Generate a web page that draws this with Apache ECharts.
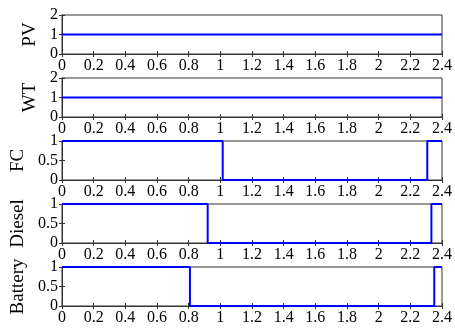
<!DOCTYPE html>
<html>
<head>
<meta charset="utf-8">
<script src="https://cdn.jsdelivr.net/npm/echarts@6/dist/echarts.min.js"></script>
<style>html,body{margin:0;padding:0;background:#fff}#c{width:455px;height:329px}</style>
</head>
<body>
<div id="c"></div>
<script>
// Panel names
const panelNames = ['PV', 'WT', 'FC', 'Diesel', 'Battery'];
// Switching times (x) and states (y) for each source, step-wise
const pvTimes = [0, 2.4];
const pvStates = [1, 1];
const wtTimes = [0, 2.4];
const wtStates = [1, 1];
const fcTimes = [0, 1.015, 2.307, 2.4];
const fcStates = [1, 0, 1, 1];
const dieselTimes = [0, 0.92, 2.333, 2.4];
const dieselStates = [1, 0, 1, 1];
const batteryTimes = [0, 0.808, 2.351, 2.4];
const batteryStates = [1, 0, 1, 1];
// Axis ranges
const xMin = 0, xMax = 2.4, xStep = 0.2;
const yMaxes = [2, 2, 1, 1, 1];
const ySteps = [1, 1, 0.5, 0.5, 0.5];

const times = [pvTimes, wtTimes, fcTimes, dieselTimes, batteryTimes];
const states = [pvStates, wtStates, fcStates, dieselStates, batteryStates];

const tops = [15, 78, 141, 204, 267];
const H = 39;
const nameGaps = [18, 18, 31, 31, 31];
const font = 'Liberation Serif';
const frame = '#333';

const grid = [], xAxis = [], yAxis = [], series = [];
for (let i = 0; i < 5; i++) {
  grid.push({left: 62, width: 380, top: tops[i], height: H, show: true, borderColor: frame, borderWidth: 1, backgroundColor: '#fff'});
  const tickX = {show: true, inside: true, length: 3, lineStyle: {color: frame}};
  xAxis.push({type: 'value', gridIndex: i, min: xMin, max: xMax, interval: xStep, position: 'bottom',
    axisLine: {show: true, lineStyle: {color: frame}}, axisTick: tickX, splitLine: {show: false},
    axisLabel: {fontFamily: font, fontSize: 16, color: '#000', margin: 4}});
  xAxis.push({type: 'value', gridIndex: i, min: xMin, max: xMax, interval: xStep, position: 'top',
    axisLine: {show: true, lineStyle: {color: frame}}, axisTick: tickX, splitLine: {show: false},
    axisLabel: {show: false}});
  yAxis.push({type: 'value', gridIndex: i, min: 0, max: yMaxes[i], interval: ySteps[i], position: 'left',
    name: panelNames[i], nameLocation: 'middle', nameGap: nameGaps[i], nameRotate: 90,
    nameTextStyle: {fontFamily: font, fontSize: 19, color: '#000'},
    axisLine: {show: true, lineStyle: {color: frame}}, axisTick: tickX, splitLine: {show: false},
    axisLabel: {fontFamily: font, fontSize: 16, color: '#000', margin: 4}});
  yAxis.push({type: 'value', gridIndex: i, min: 0, max: yMaxes[i], interval: ySteps[i], position: 'right',
    axisLine: {show: true, lineStyle: {color: frame}}, axisTick: tickX, splitLine: {show: false},
    axisLabel: {show: false}});
  series.push({type: 'line', xAxisIndex: 2 * i, yAxisIndex: 2 * i, step: 'end', showSymbol: false,
    symbol: 'none', clip: true, animation: false,
    lineStyle: {color: '#0000ff', width: 2},
    data: times[i].map((t, k) => [t, states[i][k]])});
}

const chart = echarts.init(document.getElementById('c'), null, {renderer: 'canvas'});
chart.setOption({animation: false, backgroundColor: '#fff', grid, xAxis, yAxis, series});
</script>
</body>
</html>
